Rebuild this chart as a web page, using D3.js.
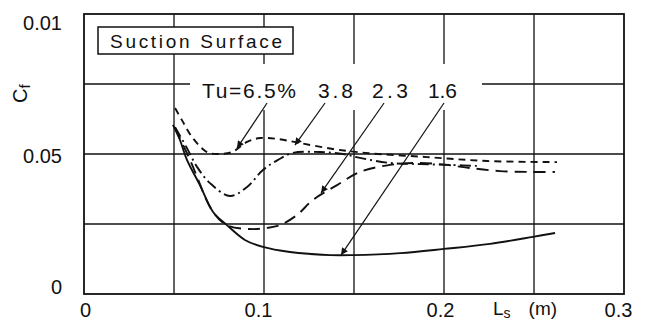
<!DOCTYPE html>
<html>
<head>
<meta charset="utf-8">
<script src="https://cdn.jsdelivr.net/npm/d3@7"></script>
<style>
  body { margin: 0; background: #fff; }
  svg { display: block; }
  text { font-family: "Liberation Sans", Arial, sans-serif; fill: #111; }
</style>
</head>
<body>
<svg id="chart" width="651" height="322"></svg>
<script>
// Ls (m) along the suction surface
var ls65 = [0.0506, 0.0544, 0.060, 0.0683, 0.0744, 0.0822, 0.0906, 0.0978, 0.1072, 0.12, 0.1383, 0.1561, 0.1906, 0.2239, 0.2628];
var cf65 = [0.0664, 0.0621, 0.0561, 0.0507, 0.050, 0.0507, 0.0543, 0.0557, 0.0554, 0.0539, 0.0518, 0.0504, 0.0489, 0.0475, 0.0471];

var ls38 = [0.0506, 0.0572, 0.0628, 0.070, 0.0811, 0.0906, 0.0994, 0.1078, 0.1161, 0.1311, 0.1439, 0.1533, 0.17, 0.1867, 0.2033, 0.22];
var cf38 = [0.0596, 0.0521, 0.0454, 0.0396, 0.035, 0.0382, 0.0443, 0.0479, 0.0504, 0.0507, 0.050, 0.0486, 0.0468, 0.0464, 0.0461, 0.0457];

var ls23 = [0.0506, 0.0589, 0.0717, 0.0794, 0.0922, 0.1017, 0.1089, 0.1183, 0.1272, 0.1406, 0.1533, 0.17, 0.1867, 0.2017, 0.2144, 0.2311, 0.2478, 0.2617];
var cf23 = [0.0593, 0.0479, 0.0293, 0.0246, 0.0232, 0.0236, 0.0246, 0.0282, 0.0336, 0.0389, 0.0436, 0.0461, 0.0468, 0.0461, 0.045, 0.0439, 0.0436, 0.0436];

var ls16 = [0.0494, 0.0533, 0.0572, 0.0644, 0.0717, 0.0794, 0.0894, 0.0994, 0.1144, 0.1367, 0.1494, 0.1756, 0.2, 0.2256, 0.2494, 0.2617];
var cf16 = [0.0604, 0.055, 0.0479, 0.0389, 0.0293, 0.0246, 0.0193, 0.0168, 0.015, 0.0139, 0.0139, 0.0146, 0.0161, 0.0179, 0.0204, 0.0218];

var xTicks = [0, 0.1, 0.2, 0.3];
var xTickLabels = ["0", "0.1", "0.2", "0.3"];
var yTicks = [0, 0.05, 0.1];
var yTickLabels = ["0", "0.05", "0.01"];
var xGrid = [0.05, 0.1, 0.15, 0.2, 0.25];
var yGrid = [0.025, 0.05, 0.075];

var tuLabels = ["Tu=6.5%", "3.8", "2.3", "1.6"];
var tuTipLs = [0.085, 0.1172, 0.1317, 0.1428];
var tuTipCf = [0.0521, 0.0532, 0.0361, 0.0139];
var tuTailLs = [0.1017, 0.1339, 0.1667, 0.2];

var svg = d3.select("#chart");
var margin = { top: 14, right: 27, bottom: 28, left: 84 };
var width = 651, height = 322;

var x = d3.scaleLinear().domain([0, 0.3]).range([margin.left, width - margin.right]);
var y = d3.scaleLinear().domain([0, 0.1]).range([height - margin.bottom, margin.top]);

svg.append("defs").append("marker")
  .attr("id", "head")
  .attr("viewBox", "0 0 10 10")
  .attr("refX", 10).attr("refY", 5)
  .attr("markerWidth", 9).attr("markerHeight", 7)
  .attr("markerUnits", "userSpaceOnUse")
  .attr("orient", "auto")
  .append("path")
  .attr("d", "M0,0L10,5L0,10z")
  .attr("fill", "#111");

// grid
svg.append("g").selectAll("line.v")
  .data(xGrid).enter().append("line")
  .attr("x1", d => x(d)).attr("x2", d => x(d))
  .attr("y1", y(0)).attr("y2", y(0.1))
  .attr("stroke", "#111").attr("stroke-width", 1.3);

svg.append("g").selectAll("line.h")
  .data(yGrid).enter().append("line")
  .attr("x1", x(0)).attr("x2", x(0.3))
  .attr("y1", d => y(d)).attr("y2", d => y(d))
  .attr("stroke", "#111").attr("stroke-width", 1.3);

// frame
svg.append("rect")
  .attr("x", x(0)).attr("y", y(0.1))
  .attr("width", x(0.3) - x(0)).attr("height", y(0) - y(0.1))
  .attr("fill", "none").attr("stroke", "#111").attr("stroke-width", 1.8);

// axes
var yAxis = svg.append("g")
  .attr("transform", `translate(${x(0)},0)`)
  .call(d3.axisLeft(y).tickValues(yTicks).tickSize(0).tickPadding(22)
    .tickFormat((d, i) => yTickLabels[i]));
yAxis.select(".domain").remove();
yAxis.selectAll("text")
  .style("font-size", "20px")
  .attr("dy", (d, i) => [-0.05, 0.42, 0.78][i] + "em");

var xAxis = svg.append("g")
  .attr("transform", `translate(0,${y(0)})`)
  .call(d3.axisBottom(x).tickValues(xTicks).tickSize(0).tickPadding(9)
    .tickFormat((d, i) => xTickLabels[i]));
xAxis.select(".domain").remove();
xAxis.selectAll("text")
  .style("font-size", "20px")
  .attr("dx", (d, i) => [1, -6, -4, -6][i]);

// axis titles
var lsTitle = svg.append("text")
  .attr("x", 493).attr("y", 315)
  .style("font-size", "19px");
lsTitle.append("tspan").text("L");
lsTitle.append("tspan").attr("dy", 3).style("font-size", "14px").text("s");
lsTitle.append("tspan").attr("dy", -3).attr("dx", 18).text("(m)");

var cfTitle = svg.append("text")
  .attr("transform", "translate(27,103) rotate(-90)")
  .style("font-size", "20px");
cfTitle.append("tspan").text("C");
cfTitle.append("tspan").attr("dy", 3).style("font-size", "15px").text("f");

// curves
var line = d3.line()
  .x(d => x(d[0])).y(d => y(d[1]))
  .curve(d3.curveCatmullRom.alpha(0.5));

var series = [
  { ls: ls65, cf: cf65, dash: "7,5" },
  { ls: ls38, cf: cf38, dash: "11,4,2,4" },
  { ls: ls23, cf: cf23, dash: "12,7" },
  { ls: ls16, cf: cf16, dash: null }
];

svg.append("g").selectAll("path")
  .data(series).enter().append("path")
  .attr("d", s => line(d3.zip(s.ls, s.cf)))
  .attr("fill", "none")
  .attr("stroke", "#111")
  .attr("stroke-width", 1.9)
  .attr("stroke-dasharray", s => s.dash);

// legend box
svg.append("rect")
  .attr("x", 98).attr("y", 27).attr("width", 195).attr("height", 27)
  .attr("fill", "#fff").attr("stroke", "#111").attr("stroke-width", 1.5);
svg.append("text")
  .attr("x", 110).attr("y", 48)
  .attr("textLength", 172).attr("lengthAdjust", "spacing")
  .style("font-size", "19px")
  .text("Suction Surface");

// Tu annotations
svg.append("rect")
  .attr("x", 190).attr("y", 64).attr("width", 292).attr("height", 46)
  .attr("fill", "#fff");

var labelX = [202, 318, 372, 428];
var labelW = [94, 35, 36, 29];
svg.append("g").selectAll("text")
  .data(tuLabels).enter().append("text")
  .attr("x", (d, i) => labelX[i]).attr("y", 98)
  .attr("textLength", (d, i) => labelW[i]).attr("lengthAdjust", "spacing")
  .style("font-size", "21px")
  .text(d => d);

svg.append("g").selectAll("line")
  .data(tuLabels).enter().append("line")
  .attr("x1", (d, i) => x(tuTailLs[i])).attr("y1", 103)
  .attr("x2", (d, i) => x(tuTipLs[i])).attr("y2", (d, i) => y(tuTipCf[i]))
  .attr("stroke", "#111").attr("stroke-width", 1.2)
  .attr("marker-end", "url(#head)");
</script>
</body>
</html>
